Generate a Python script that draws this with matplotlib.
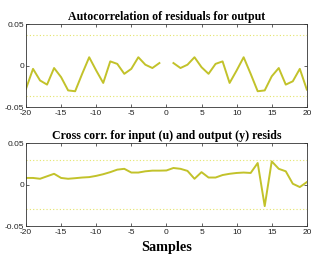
import numpy as np
import matplotlib
matplotlib.use("Agg")
import matplotlib.pyplot as plt

lags = np.arange(-20, 21)
auto_vals = [-0.028, -0.004, -0.018, -0.023, -0.003, -0.014, -0.030, -0.031, -0.010, 0.010,
             -0.006, -0.021, 0.005, 0.002, -0.010, -0.004, 0.010, 0.001, -0.003, 0.003,
             np.nan,
             0.003, -0.003, 0.001, 0.010, -0.002, -0.010, 0.002, 0.005, -0.021, -0.006,
             0.010, -0.010, -0.031, -0.030, -0.013, -0.003, -0.023, -0.019, -0.004, -0.029]
cross_vals = [0.008, 0.008, 0.007, 0.010, 0.013, 0.008, 0.007, 0.0077, 0.0085, 0.009,
              0.0105, 0.0125, 0.015, 0.018, 0.019, 0.0145, 0.0145, 0.016, 0.0168, 0.0168,
              0.017,
              0.020, 0.019, 0.0165, 0.007, 0.015, 0.0085, 0.0085, 0.0115, 0.013, 0.014,
              0.0145, 0.014, 0.026, -0.026, 0.028, 0.019, 0.016, 0.001, -0.003, 0.003]
auto_conf = 0.037
cross_conf = 0.030
yticks = [-0.05, 0, 0.05]
ytick_labels = ["-0.05", "0", "0.05"]
xticks = [-20, -15, -10, -5, 0, 5, 10, 15, 20]

line_color = "#c2c22a"
conf_color = "#e4e46a"

fig = plt.figure(figsize=(3.11, 2.56), dpi=100)
ax1 = fig.add_axes([0.0836, 0.582, 0.903, 0.324])
ax2 = fig.add_axes([0.0836, 0.117, 0.903, 0.324])

def style(ax, title, conf):
    ax.axhline(conf, color=conf_color, lw=0.8, ls=(0, (1, 2)))
    ax.axhline(-conf, color=conf_color, lw=0.8, ls=(0, (1, 2)))
    ax.set_xlim(-20, 20)
    ax.set_ylim(-0.05, 0.05)
    ax.set_xticks(xticks)
    ax.set_xticklabels([str(t) for t in xticks])
    ax.set_yticks(yticks)
    ax.set_yticklabels(ytick_labels)
    ax.tick_params(direction="in", top=True, right=True, length=2.5, width=0.5,
                   labelsize=6, pad=1.5, colors="#222222")
    ax.tick_params(axis="x", pad=2)
    for lab in ax.get_xticklabels() + ax.get_yticklabels():
        lab.set_family("Liberation Sans")
    for s in ax.spines.values():
        s.set_linewidth(0.6)
        s.set_color("#333333")
    ax.set_title(title, family="Liberation Serif", weight="bold", fontsize=8.6, pad=3)

ax1.plot(lags, auto_vals, color=line_color, lw=1.4)
style(ax1, "Autocorrelation of residuals for output", auto_conf)
ax2.plot(lags, cross_vals, color=line_color, lw=1.4)
style(ax2, "Cross corr. for input (u) and output (y) resids", cross_conf)
ax2.set_xlabel("Samples", family="Liberation Serif", weight="bold", fontsize=10.3, labelpad=4)

fig.savefig("out.png", dpi=100)
